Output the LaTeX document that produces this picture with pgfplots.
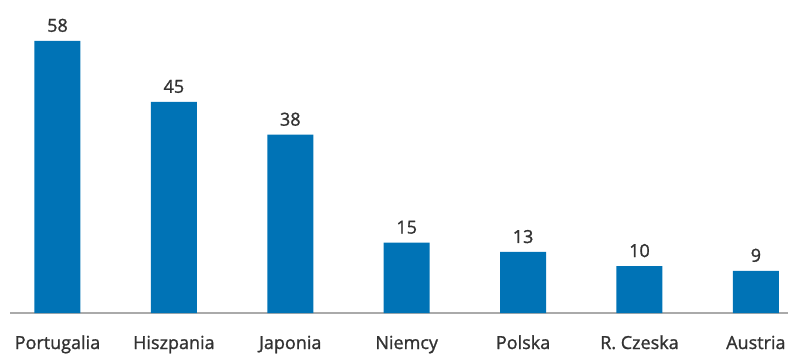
\documentclass[border=0pt]{standalone}
\usepackage{pgfplots}
\pgfplotsset{compat=1.18}
\usepackage{fontspec}
\setmainfont{Open Sans}[FakeBold=1.2]
\definecolor{barblue}{RGB}{0,115,182}
\definecolor{txt}{RGB}{50,50,50}
\definecolor{axgray}{RGB}{170,170,170}
\begin{document}
\begin{tikzpicture}
\begin{axis}[
  at={(10bp,41bp)}, anchor=south west,
  scale only axis,
  width=778bp, height=313bp,
  xmin=-0.408, xmax=6.276,
  ymin=0, ymax=66.7,
  ybar, bar width=46bp,
  axis x line*=bottom,
  axis y line=none,
  x axis line style={draw=axgray, line width=1.3bp, -},
  xtick=data,
  xticklabels={Portugalia,Hiszpania,Japonia,Niemcy,Polska,R. Czeska,Austria},
  major tick length=0pt,
  xtick style={draw=none},
  /pgf/number format/assume math mode=true,
  xticklabel style={font=\fontsize{18bp}{21bp}\selectfont, text=txt, anchor=base, yshift=-36bp, inner sep=0pt},
  nodes near coords,
  every node near coord/.append style={font=\fontsize{18bp}{21bp}\selectfont, text=txt, anchor=base, yshift=9bp, inner sep=0pt},
  clip=false,
]
\addplot[fill=barblue, draw=none] coordinates {(0,58) (1,45) (2,38) (3,15) (4,13) (5,10) (6,9)};
\end{axis}
\pgfresetboundingbox
\useasboundingbox (0,0) rectangle (788bp,354bp);
\end{tikzpicture}
\end{document}
